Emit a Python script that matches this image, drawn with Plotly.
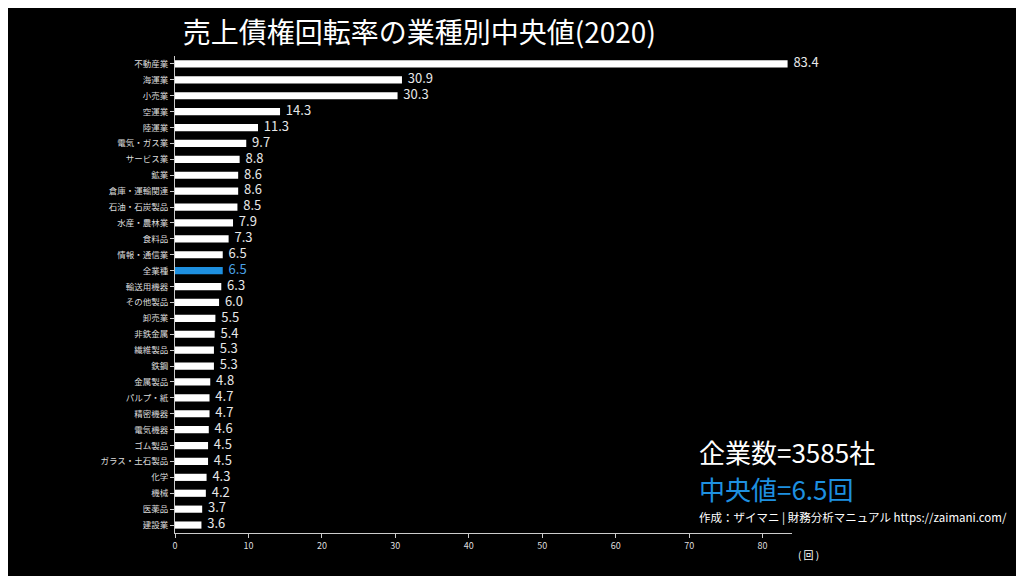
import plotly.graph_objects as go

categories = ["不動産業", "海運業", "小売業", "空運業", "陸運業", "電気・ガス業", "サービス業", "鉱業",
              "倉庫・運輸関連", "石油・石炭製品", "水産・農林業", "食料品", "情報・通信業", "全業種",
              "輸送用機器", "その他製品", "卸売業", "非鉄金属", "繊維製品", "鉄鋼", "金属製品",
              "パルプ・紙", "精密機器", "電気機器", "ゴム製品", "ガラス・土石製品", "化学", "機械",
              "医薬品", "建設業"]
values = [83.4, 30.9, 30.3, 14.3, 11.3, 9.7, 8.8, 8.6, 8.6, 8.5, 7.9, 7.3, 6.5, 6.5,
          6.3, 6.0, 5.5, 5.4, 5.3, 5.3, 4.8, 4.7, 4.7, 4.6, 4.5, 4.5, 4.3, 4.2, 3.7, 3.6]
company_count = 3585
median_value = 6.5

BLUE = "#1e90e0"
colors = [BLUE if c == "全業種" else "white" for c in categories]
label_colors = ["#4aa3e8" if c == "全業種" else "#e8e8e8" for c in categories]

fig = go.Figure()
fig.add_trace(go.Bar(
    x=values, y=categories, orientation="h",
    marker=dict(color=colors, line=dict(width=0)),
    width=0.45, hoverinfo="x+y",
))
# value labels next to bar ends
fig.add_trace(go.Scatter(
    x=values, y=categories, mode="text",
    text=[f"  {v:.1f}" for v in values], textposition="middle right",
    textfont=dict(color=label_colors, size=13),
    cliponaxis=False, hoverinfo="skip",
))

# page body has an 8px margin, so the figure is drawn 8px smaller
fig.update_layout(
    width=1016, height=568,
    paper_bgcolor="black", plot_bgcolor="black",
    font=dict(family="Noto Sans CJK JP", color="white"),
    margin=dict(l=167, r=232, t=48, b=43),
    showlegend=False,
    title=dict(text="売上債権回転率の業種別中央値(2020)", x=0.172, xanchor="left",
               y=0.956, yanchor="middle", font=dict(size=28, color="white")),
)
fig.update_yaxes(range=[len(categories) - 0.5, -0.5], tickfont=dict(size=8.5, color="#dddddd"),
                 showline=True, linecolor="#cccccc", ticks="outside", tickcolor="#cccccc",
                 ticklen=4, showgrid=False)
fig.update_xaxes(range=[0, 84], dtick=10, tickfont=dict(size=9, color="#dddddd"),
                 showline=True, linecolor="#cccccc", ticks="outside", tickcolor="#cccccc",
                 ticklen=4, showgrid=False, zeroline=False)

fig.add_annotation(text=f"企業数={company_count}社", xref="paper", yref="paper", x=0.846, y=0.17,
                   xanchor="left", yanchor="middle", showarrow=False, font=dict(size=26, color="white"))
fig.add_annotation(text=f"中央値={median_value}回", xref="paper", yref="paper", x=0.846, y=0.094,
                   xanchor="left", yanchor="middle", showarrow=False, font=dict(size=26, color=BLUE))
fig.add_annotation(text="作成：ザイマニ | 財務分析マニュアル https://zaimani.com/", xref="paper", yref="paper",
                   x=0.846, y=0.034, xanchor="left", yanchor="middle", showarrow=False,
                   font=dict(size=11.5, color="white"))
fig.add_annotation(text="( 回 )", xref="paper", yref="paper", x=1.026, y=-0.045,
                   xanchor="center", yanchor="middle", showarrow=False, font=dict(size=10, color="white"))

fig.write_html("out.html")
